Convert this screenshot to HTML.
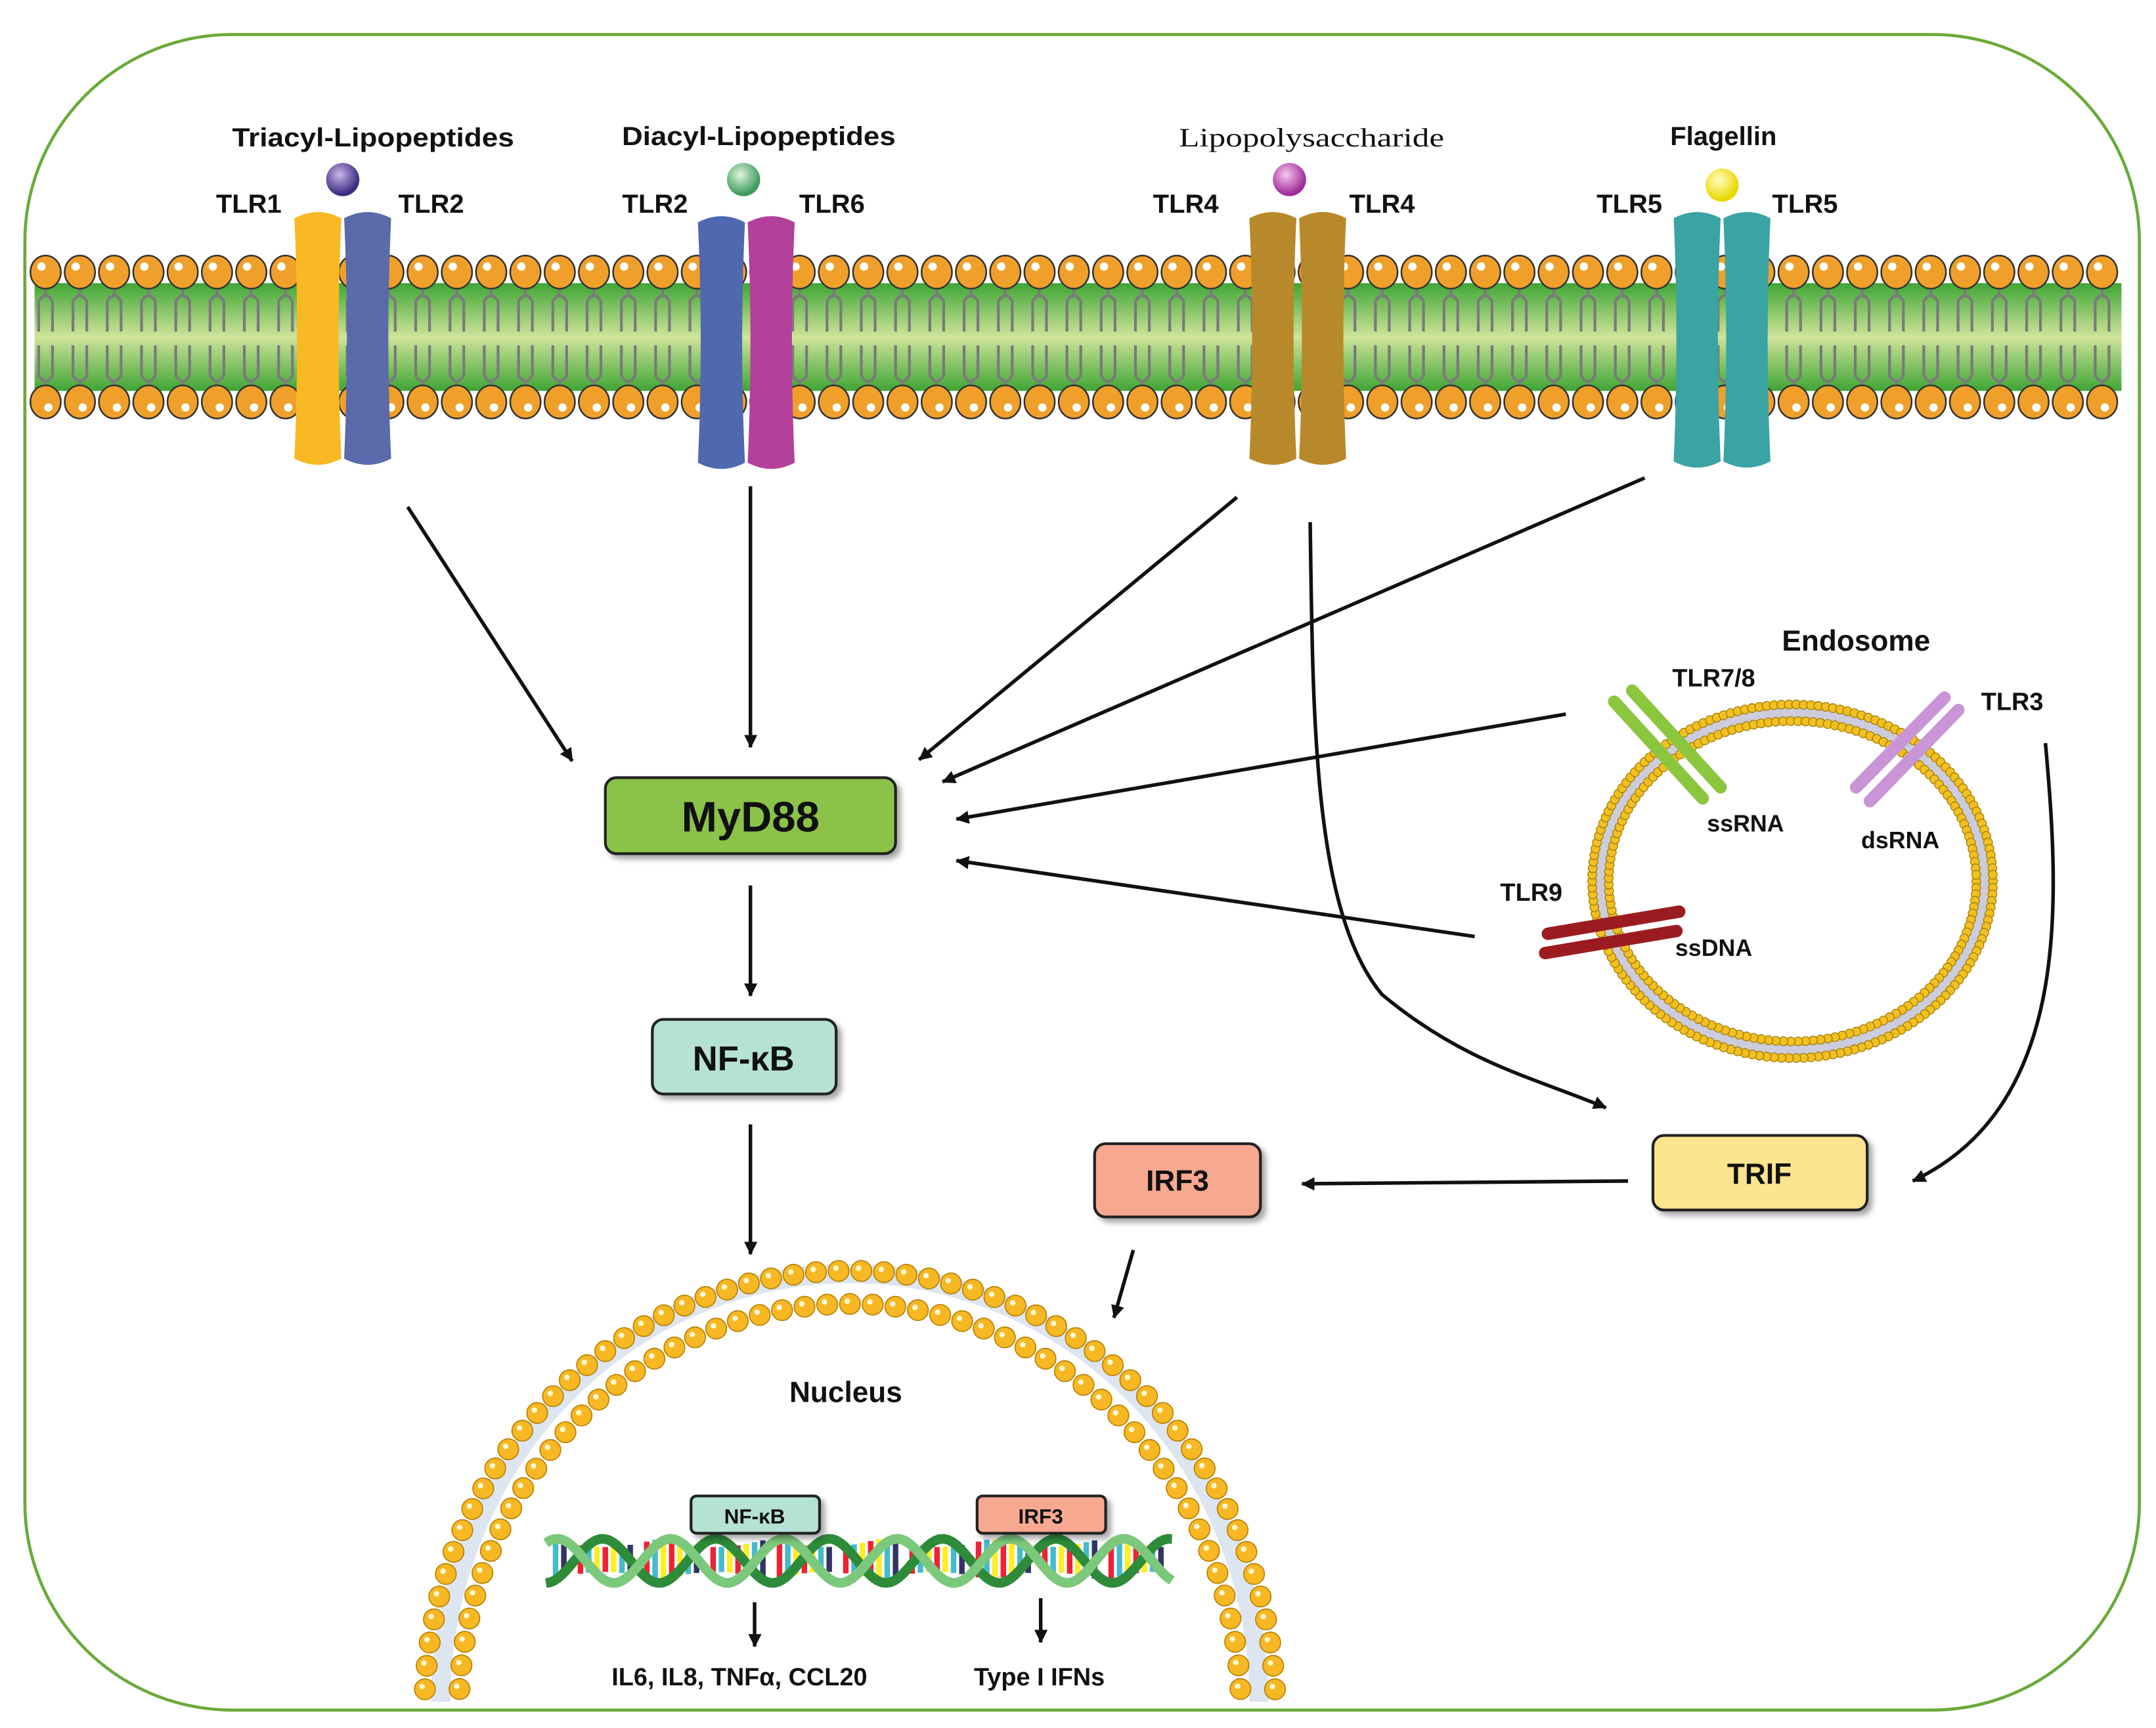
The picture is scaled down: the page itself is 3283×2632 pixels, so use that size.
<!DOCTYPE html>
<html><head><meta charset="utf-8"><style>
html,body{margin:0;padding:0;background:#fff}
svg{display:block}
text{font-family:"Liberation Sans",sans-serif;font-weight:bold;fill:#111}
</style></head><body>
<svg id="s" width="3283" height="2632" viewBox="0 0 1560 1251" preserveAspectRatio="none" xmlns="http://www.w3.org/2000/svg">
<defs>
<linearGradient id="mem" x1="0" y1="0" x2="0" y2="1">
<stop offset="0" stop-color="#3fa535"/><stop offset="0.5" stop-color="#cfe49a"/><stop offset="1" stop-color="#3fa535"/>
</linearGradient>
<radialGradient id="bp" cx="0.4" cy="0.35" r="0.6"><stop offset="0" stop-color="#c9b6e8"/><stop offset="1" stop-color="#3a2a80"/></radialGradient>
<radialGradient id="bg" cx="0.4" cy="0.35" r="0.6"><stop offset="0" stop-color="#e0f5e0"/><stop offset="1" stop-color="#3c9a5a"/></radialGradient>
<radialGradient id="bm" cx="0.4" cy="0.35" r="0.6"><stop offset="0" stop-color="#f6c6f0"/><stop offset="1" stop-color="#a02a9a"/></radialGradient>
<radialGradient id="by" cx="0.4" cy="0.35" r="0.6"><stop offset="0" stop-color="#ffffc0"/><stop offset="1" stop-color="#e8d800"/></radialGradient>
<marker id="ar" markerWidth="10" markerHeight="10" refX="9" refY="5" orient="auto" markerUnits="userSpaceOnUse"><path d="M0,0 L10,5 L0,10 L2,5 z" fill="#111" transform="scale(1.6) translate(-4,-2)"/></marker>
<filter id="sh" x="-10%" y="-10%" width="130%" height="140%"><feDropShadow dx="3" dy="3" stdDeviation="2" flood-color="#000" flood-opacity="0.35"/></filter>
</defs>
<rect x="18" y="25" width="1530" height="1213" rx="150" ry="150" fill="#fff" stroke="#6aaa3a" stroke-width="2.2"/>
<rect x="25" y="205" width="1510" height="78" fill="url(#mem)"/>
<g id="lip"></g>
<g id="rec"></g>
<!-- ligands -->
<circle cx="248" cy="130" r="12" fill="url(#bp)"/>
<circle cx="538" cy="130" r="12" fill="url(#bg)"/>
<circle cx="933" cy="130" r="12" fill="url(#bm)"/>
<circle cx="1246" cy="134" r="12" fill="url(#by)"/>
<text x="270" y="106" font-size="19" text-anchor="middle" textLength="204" lengthAdjust="spacingAndGlyphs">Triacyl-Lipopeptides</text>
<text x="549" y="105" font-size="19" text-anchor="middle" textLength="198" lengthAdjust="spacingAndGlyphs">Diacyl-Lipopeptides</text>
<text x="949" y="106" font-size="19" text-anchor="middle" style="font-family:'Liberation Serif',serif;font-weight:normal" textLength="192" lengthAdjust="spacingAndGlyphs">Lipopolysaccharide</text>
<text x="1247" y="105" font-size="19" text-anchor="middle">Flagellin</text>
<g font-size="19">
<text x="180" y="154" text-anchor="middle">TLR1</text><text x="312" y="154" text-anchor="middle">TLR2</text>
<text x="474" y="154" text-anchor="middle">TLR2</text><text x="602" y="154" text-anchor="middle">TLR6</text>
<text x="858" y="154" text-anchor="middle">TLR4</text><text x="1000" y="154" text-anchor="middle">TLR4</text>
<text x="1179" y="154" text-anchor="middle">TLR5</text><text x="1306" y="154" text-anchor="middle">TLR5</text>
</g>
<!-- endosome -->
<g id="endo"></g>
<g stroke-linecap="round">
<line x1="1168" y1="508" x2="1232" y2="578" stroke="#8cc63f" stroke-width="9"/>
<line x1="1181" y1="500" x2="1245" y2="570" stroke="#8cc63f" stroke-width="9"/>
<line x1="1407" y1="505" x2="1343" y2="570" stroke="#c995d6" stroke-width="9"/>
<line x1="1417" y1="514" x2="1353" y2="580" stroke="#c995d6" stroke-width="9"/>
<line x1="1120" y1="676" x2="1215" y2="660" stroke="#9b1c20" stroke-width="9"/>
<line x1="1118" y1="690" x2="1213" y2="674" stroke="#9b1c20" stroke-width="9"/>
</g>
<text x="1343" y="471" font-size="21" text-anchor="middle">Endosome</text>
<text x="1240" y="497" font-size="18" text-anchor="middle">TLR7/8</text>
<text x="1456" y="514" font-size="18" text-anchor="middle">TLR3</text>
<text x="1263" y="602" font-size="17" text-anchor="middle">ssRNA</text>
<text x="1375" y="614" font-size="17" text-anchor="middle">dsRNA</text>
<text x="1108" y="652" font-size="18" text-anchor="middle">TLR9</text>
<text x="1240" y="692" font-size="17" text-anchor="middle">ssDNA</text>
<!-- arrows -->
<g stroke="#111" stroke-width="2.6" fill="none" marker-end="url(#ar)">
<line x1="295" y1="367" x2="414" y2="551"/>
<line x1="543" y1="352" x2="543" y2="541"/>
<line x1="895" y1="360" x2="665" y2="550"/>
<line x1="1190" y1="346" x2="682" y2="566"/>
<line x1="1133" y1="517" x2="692" y2="593"/>
<line x1="1067" y1="678" x2="692" y2="623"/>
<line x1="543" y1="641" x2="543" y2="721"/>
<line x1="543" y1="814" x2="543" y2="908"/>
<path d="M948,378 C950,520 950,660 1000,720 C1060,770 1110,780 1162,802"/>
<path d="M1480,538 C1490,650 1500,800 1384,855"/>
<line x1="1178" y1="855" x2="942" y2="857"/>
<line x1="820" y1="905" x2="806" y2="954"/>
<line x1="546" y1="1160" x2="546" y2="1192"/>
<line x1="753" y1="1157" x2="753" y2="1189"/>
</g>
<!-- boxes -->
<rect x="438" y="563" width="210" height="55" rx="8" fill="#8bc34a" stroke="#222" stroke-width="2" filter="url(#sh)"/>
<text x="543" y="602" font-size="31" text-anchor="middle">MyD88</text>
<rect x="472" y="738" width="133" height="54" rx="8" fill="#b6e1d5" stroke="#222" stroke-width="2" filter="url(#sh)"/>
<text x="538" y="775" font-size="25" text-anchor="middle">NF-κB</text>
<rect x="792" y="828" width="120" height="53" rx="8" fill="#f7a890" stroke="#222" stroke-width="2" filter="url(#sh)"/>
<text x="852" y="862" font-size="21" text-anchor="middle">IRF3</text>
<rect x="1196" y="822" width="155" height="54" rx="8" fill="#fde48e" stroke="#222" stroke-width="2" filter="url(#sh)"/>
<text x="1273" y="857" font-size="21" text-anchor="middle">TRIF</text>
<!-- nucleus -->
<g id="nuc"></g>
<text x="612" y="1015" font-size="21" text-anchor="middle">Nucleus</text>
<g id="dna"></g>
<rect x="500" y="1083" width="93" height="27" rx="4" fill="#b6e1d5" stroke="#222" stroke-width="2" filter="url(#sh)"/>
<text x="546" y="1103" font-size="15" text-anchor="middle">NF-κB</text>
<rect x="707" y="1083" width="93" height="27" rx="4" fill="#f7a890" stroke="#222" stroke-width="2" filter="url(#sh)"/>
<text x="753" y="1103" font-size="15" text-anchor="middle">IRF3</text>
<text x="535" y="1220" font-size="18" text-anchor="middle">IL6, IL8, TNFα, CCL20</text>
<text x="752" y="1220" font-size="18" text-anchor="middle">Type I IFNs</text>
</svg>
<script>
var NS="http://www.w3.org/2000/svg";
function el(p,t,a){var e=document.createElementNS(NS,t);for(var k in a)e.setAttribute(k,a[k]);p.appendChild(e);return e;}
var lip=document.getElementById('lip');
for(var x=33;x<=1532;x+=24.8){
 var tails=[[-5,208,240],[5,208,240],[-5,250,282],[5,250,282]];
 el(lip,'path',{d:'M'+(x-5)+',240 V218 Q'+x+',210 '+(x+5)+',218 V240 M'+x+',205 V214',stroke:'#7a7a7a','stroke-width':2,fill:'none'});
 el(lip,'path',{d:'M'+(x-5)+',250 V272 Q'+x+',280 '+(x+5)+',272 V250 M'+x+',276 V286',stroke:'#7a7a7a','stroke-width':2,fill:'none'});
 el(lip,'ellipse',{cx:x,cy:197,rx:11,ry:12,fill:'#f0a02a',stroke:'#333','stroke-width':1.2});
 el(lip,'circle',{cx:x-3,cy:193,r:3,fill:'#fff'});
 el(lip,'ellipse',{cx:x,cy:291,rx:11,ry:12,fill:'#f0a02a',stroke:'#333','stroke-width':1.2});
 el(lip,'circle',{cx:x+2,cy:295,r:3,fill:'#fff'});
}
var rec=document.getElementById('rec');
function bar(x,c,y1,y2){el(rec,'path',{d:'M'+x+','+(y1+6)+' Q'+(x+17)+','+(y1-3)+' '+(x+34)+','+(y1+6)+' Q'+(x+30)+','+((y1+y2)/2)+' '+(x+34)+','+(y2-6)+' Q'+(x+17)+','+(y2+3)+' '+x+','+(y2-6)+' Q'+(x+4)+','+((y1+y2)/2)+' '+x+','+(y1+6)+'z',fill:c});}
bar(213,'#f9b924',152,338);bar(249,'#5a6aaa',152,338);
bar(505,'#5068b0',155,341);bar(541,'#b3409a',155,341);
bar(904,'#b8892a',152,338);bar(940,'#b8892a',152,338);
bar(1211,'#3aa3a3',152,340);bar(1247,'#3aa3a3',152,340);
// endosome
var en=document.getElementById('endo');
el(en,'ellipse',{cx:1297,cy:638,rx:139,ry:122,fill:'none',stroke:'#ccd',"stroke-width":8});
function ring(g,cx,cy,rx,ry,r,n){for(var i=0;i<n;i++){var a=i/n*2*Math.PI;el(g,'circle',{cx:cx+rx*Math.cos(a),cy:cy+ry*Math.sin(a),r:r,fill:'#f2c020',stroke:'#a07a00','stroke-width':0.6});}}
ring(en,1297,638,145,128,3.2,170);ring(en,1297,638,133,116,3.2,155);
// nucleus
var nu=document.getElementById('nuc');
var cx=615,cy=1240;
el(nu,'path',{d:'M'+(cx-296)+','+1232+' A296,310 0 0 1 '+(cx+296)+',1232',fill:'none',stroke:'#dde6f0','stroke-width':14});
function arc(R,Ry,r,step){var n=Math.round(Math.PI*R/step);for(var i=0;i<=n;i++){var a=Math.PI+i/n*Math.PI;var x=cx+R*Math.cos(a),y=cy+Ry*Math.sin(a);if(y>1232)continue;el(nu,'ellipse',{cx:x,cy:y,rx:r,ry:r,fill:'#f7b824',stroke:'#b88000','stroke-width':0.8});el(nu,'circle',{cx:x-2,cy:y-2,r:2,fill:'#fff8d0'});}}
arc(308,320,7.5,16.5);arc(283,296,7.5,16.5);
// dna
var d=document.getElementById('dna');
var cols=['#e23','#fe2','#4bc','#336','#fff','#e23','#4bc','#fe2'];
for(var x=400;x<848;x+=6){el(d,'rect',{x:x,y:1114+Math.abs(Math.sin((x-395)/80*Math.PI))*6,width:4,height:30-Math.abs(Math.sin((x-395)/80*Math.PI))*12,fill:cols[Math.floor(x/6)%8]});}
function strand(ph,c){var p='';for(var x=395;x<=850;x+=3){var y=1130+16*Math.cos((x-395)/82*2*Math.PI+ph);p+=(x==395?'M':'L')+x+','+y;}el(d,'path',{d:p,fill:'none',stroke:c,'stroke-width':7});}
strand(0,'#2e8b3a');strand(Math.PI*0.8,'#7cc87c');
</script>
</body></html>
